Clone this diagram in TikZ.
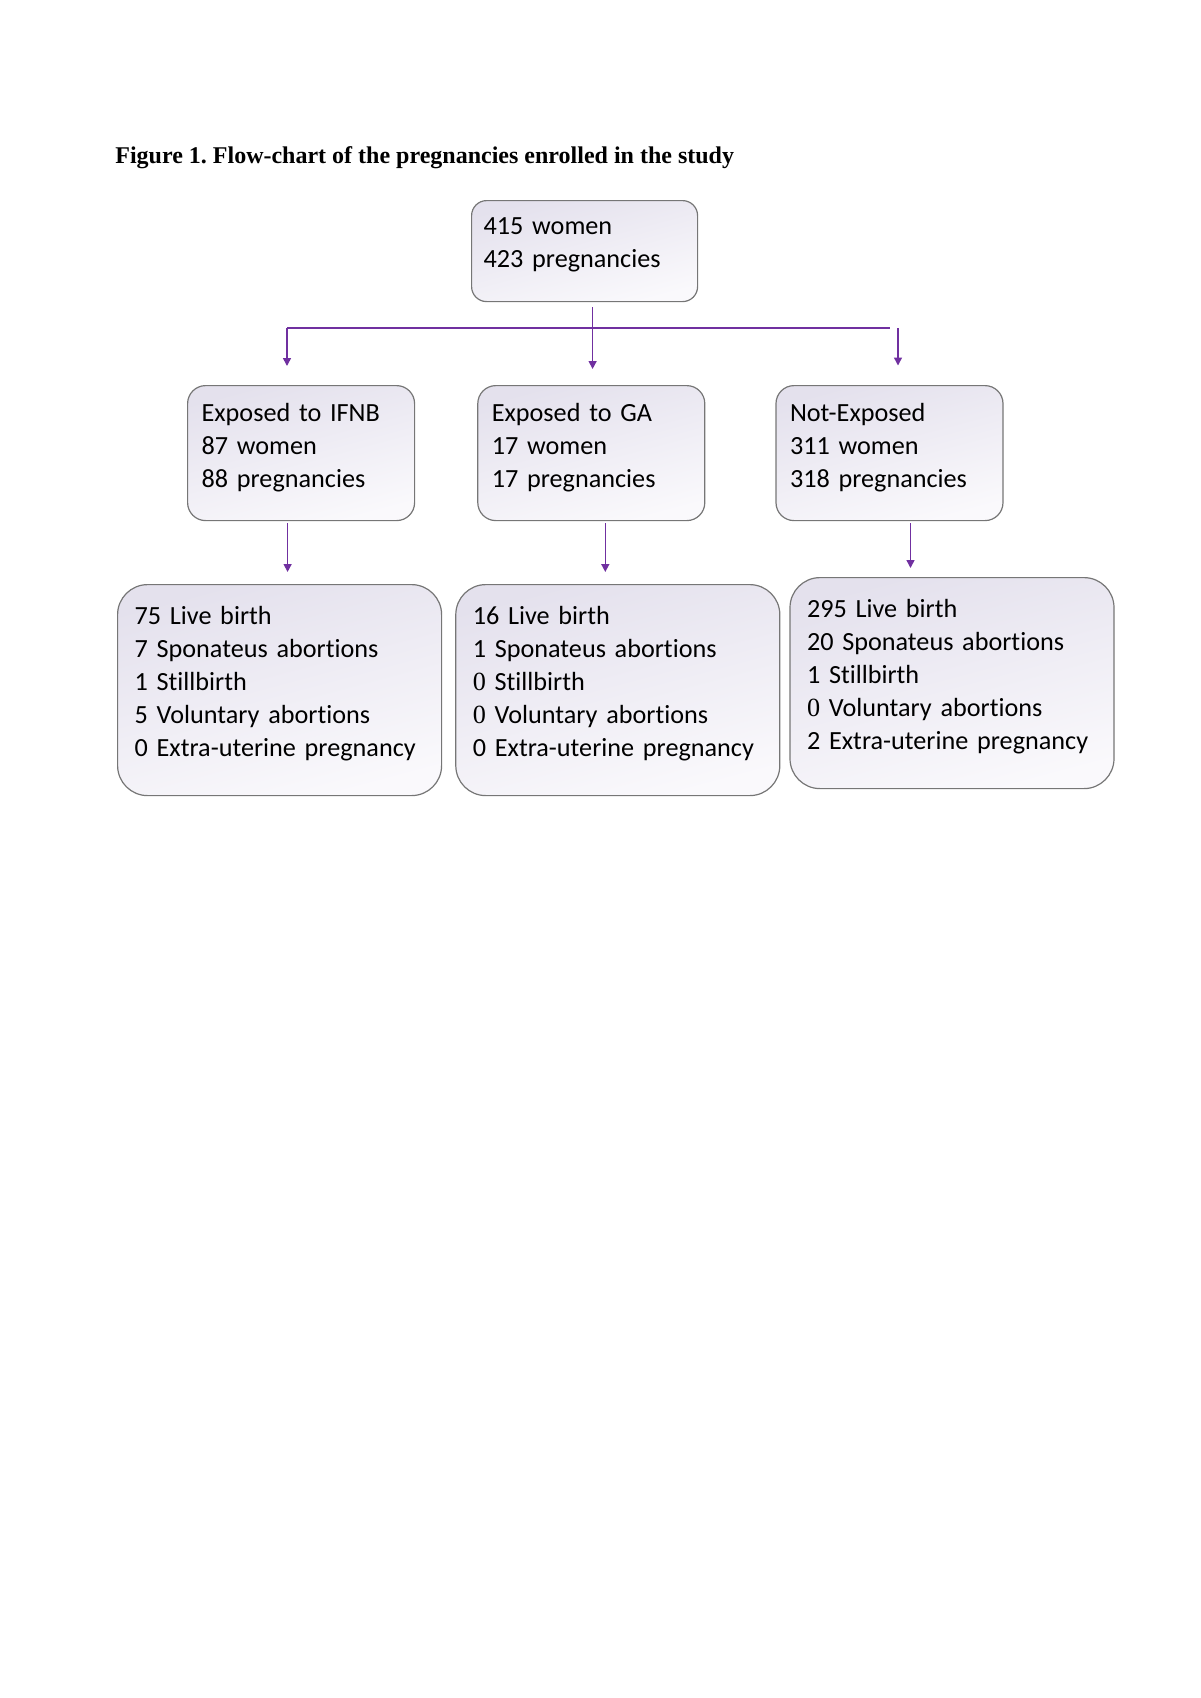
\documentclass[tikz,border=0pt]{standalone}
\usepackage{fontspec}
\setmainfont{Carlito}[Ligatures=NoCommon]
\newfontfamily\titelfont{Liberation Serif}
\usepackage{tikz}
\usetikzlibrary{arrows.meta,positioning}
\definecolor{lilla}{RGB}{112,48,160}
\definecolor{kant}{RGB}{118,118,118}
\definecolor{lavendel}{RGB}{228,225,237}
\definecolor{lyslav}{RGB}{250,249,252}
\newcommand{\snul}{{\titelfont 0}}
\frenchspacing
\tikzset{
    >={Triangle[length=4pt,width=4pt]},
    kasse/.style={
           rectangle,
           draw=kant, line width=0.6pt,
           top color=lavendel, bottom color=lyslav, shading angle=15,
           anchor=north west,
           inner ysep=0pt,
           align=left,
           font=\fontsize{13.1}{16.5}\selectfont},
    mellem/.style={
           rounded corners=9pt,
           inner xsep=7pt,
           text width=99.5pt,
           text height=18pt,
           text depth=49.5pt},
    nedre/.style={
           rounded corners=15pt,
           inner xsep=8.5pt,
           text width=145pt,
           text height=20pt,
           text depth=85.5pt},
    titel/.style={
           anchor=base west,
           inner sep=0pt,
           font=\titelfont\bfseries\fontsize{12}{14}\selectfont},
    pil/.style={
           ->,
           draw=lilla,
           line width=0.75pt}
}
\begin{document}
\begin{tikzpicture}[x=0.5pt, y=-0.5pt]
        \useasboundingbox (0,0) rectangle (1200,1698);

        \node[titel] (tittel) at (115,163) {Figure 1. Flow-chart of the pregnancies enrolled in the study};

        \node[kasse, rounded corners=7.5pt, inner xsep=6pt, text width=101pt,
              text height=17pt, text depth=33.5pt] (alle) at (471,200) {415 women\\423 pregnancies};

        \node[kasse, mellem] (ifnb) at (187,385) {Exposed to IFNB\\87 women\\88 pregnancies};
        \node[kasse, mellem, right=31pt of ifnb] (ga) {Exposed to GA\\17 women\\17 pregnancies};
        \node[kasse, mellem, right=35pt of ga] (ikke) {Not-Exposed\\311 women\\318 pregnancies};

        \node[kasse, nedre] (ud1) at (117,584) {75 Live birth\\7 Sponateus abortions\\1 Stillbirth\\5 Voluntary abortions\\0 Extra-uterine pregnancy};
        \node[kasse, nedre, right=6.5pt of ud1] (ud2) {16 Live birth\\1 Sponateus abortions\\\snul{} Stillbirth\\\snul{} Voluntary abortions\\0 Extra-uterine pregnancy};
        \node[kasse, nedre, right=4.5pt of ud2, yshift=3.5pt] (ud3) {295 Live birth\\20 Sponateus abortions\\1 Stillbirth\\\snul{} Voluntary abortions\\2 Extra-uterine pregnancy};

        \coordinate (venstre) at (287,328);
        \coordinate (hoejre) at (890,328);
        \coordinate (hoejrepil) at (898,328);

        \draw[draw=lilla, line width=0.75pt] (venstre) -- (hoejre);
        \draw[pil, shorten <=2.5pt, shorten >=8pt] ([xshift=4pt]alle.south) -- ([xshift=4pt]alle.south |- ga.north);
        \draw[pil, shorten >=9.5pt] (venstre) -- (venstre |- ifnb.north);
        \draw[pil, shorten >=9.75pt] (hoejrepil) -- (hoejrepil |- ikke.north);

        \draw[pil, shorten <=1pt, shorten >=6pt] ([xshift=-6.75pt]ifnb.south) -- ([xshift=-6.75pt]ifnb.south |- ud1.north);
        \draw[pil, shorten <=1pt, shorten >=6pt] ([xshift=7pt]ga.south) -- ([xshift=7pt]ga.south |- ud2.north);
        \draw[pil, shorten <=1pt, shorten >=4.5pt] ([xshift=10.5pt]ikke.south) -- ([xshift=10.5pt]ikke.south |- ud3.north);
\end{tikzpicture}
\end{document}
